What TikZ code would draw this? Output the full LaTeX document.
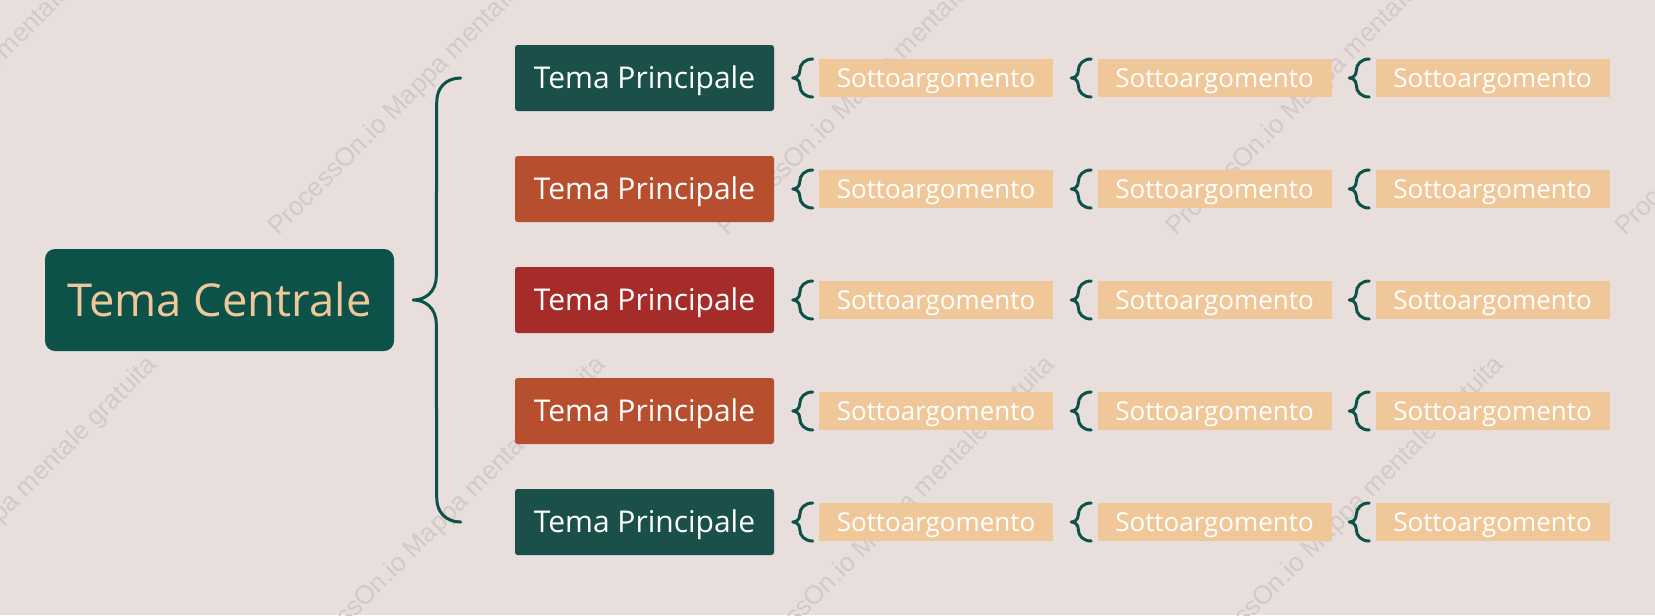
\documentclass[tikz,border=0pt]{standalone}
\usepackage{fontspec}
\setmainfont{Open Sans}
\newfontfamily\wmfont{Liberation Sans}
\usetikzlibrary{calc}
\definecolor{bgc}{HTML}{E8DEDC}
\definecolor{cgreen}{HTML}{0D5249}
\definecolor{mgreen}{HTML}{1B504A}
\definecolor{morange}{HTML}{B74E2D}
\definecolor{mred}{HTML}{A62C29}
\definecolor{subc}{HTML}{F0C799}
\definecolor{wmc}{HTML}{D3CAC8}
\newcommand{\smallbrace}[1]{%
  \draw[brc] ($(#1.west)+(-6,-19)$) .. controls ($(#1.west)+(-14,-19)$) and ($(#1.west)+(-19,-14)$) .. ($(#1.west)+(-19,-7)$)
     .. controls ($(#1.west)+(-19,-2)$) and ($(#1.west)+(-23,0)$) .. ($(#1.west)+(-26,0)$)
     .. controls ($(#1.west)+(-23,0)$) and ($(#1.west)+(-19,2)$) .. ($(#1.west)+(-19,7)$)
     .. controls ($(#1.west)+(-19,14)$) and ($(#1.west)+(-14,19)$) .. ($(#1.west)+(-6,19)$);}
\begin{document}
\begin{tikzpicture}[x=0.75pt,y=-0.75pt,
  central/.style={fill=cgreen, rounded corners=7.5pt, minimum width=261.75pt, minimum height=76.5pt,
    inner sep=0pt, text=subc, font=\fontsize{34}{40}\selectfont, text height=24.3pt, text depth=0pt},
  mainbox/.style={fill=#1, rounded corners=2pt, minimum width=194.25pt, minimum height=49.5pt,
    inner sep=0pt, text=white, font=\fontsize{22.5}{27}\selectfont, text height=16.1pt, text depth=0pt},
  subbox/.style={fill=subc, minimum width=175.5pt, minimum height=28.5pt,
    inner sep=0pt, text=white, font=\fontsize{19.5}{23}\selectfont, text height=13.9pt, text depth=0pt},
  brc/.style={draw=cgreen, line width=2.25pt, line cap=round, line join=round},
  wm/.style={font=\wmfont\fontsize{19.5}{20}\selectfont, text=wmc, rotate=45, anchor=base west, inner sep=0pt}]
\useasboundingbox (0,0) rectangle (1655,615);
\clip (0,0) rectangle (1655,615);
\fill[bgc] (0,0) rectangle (1655,615);
% watermarks
\node[wm] (w1) at (-171,237) {ProcessOn.io Mappa mentale gratuita};
\node[wm] (w2) at (278,237) {ProcessOn.io Mappa mentale gratuita};
\node[wm] (w3) at (727,237) {ProcessOn.io Mappa mentale gratuita};
\node[wm] (w4) at (1176,237) {ProcessOn.io Mappa mentale gratuita};
\node[wm] (w5) at (1625,237) {ProcessOn.io Mappa mentale gratuita};
\node[wm] (w6) at (-151,675) {ProcessOn.io Mappa mentale gratuita};
\node[wm] (w7) at (298,675) {ProcessOn.io Mappa mentale gratuita};
\node[wm] (w8) at (747,675) {ProcessOn.io Mappa mentale gratuita};
\node[wm] (w9) at (1196,675) {ProcessOn.io Mappa mentale gratuita};
% central
\node[central] (c) at (219.5,300) {Tema Centrale};
% main topics
\node[mainbox=mgreen] (m1) at (644.5,78) {Tema Principale};
\node[mainbox=morange] (m2) at (644.5,189) {Tema Principale};
\node[mainbox=mred] (m3) at (644.5,300) {Tema Principale};
\node[mainbox=morange] (m4) at (644.5,411) {Tema Principale};
\node[mainbox=mgreen] (m5) at (644.5,522) {Tema Principale};
% subtopics
\foreach \r/\y in {1/78,2/189,3/300,4/411,5/522}{
  \node[subbox] (s\r a) at (936,\y) {Sottoargomento};
  \node[subbox] (s\r b) at (1214.5,\y) {Sottoargomento};
  \node[subbox] (s\r c) at (1492.5,\y) {Sottoargomento};
}
% big brace
\coordinate (bt) at ($(m1.west)+(-54,0)$);
\coordinate (bb) at ($(m5.west)+(-54,0)$);
\coordinate (tip) at ($(c.east)+(19,0)$);
\draw[brc] (bt) .. controls ($(bt)+(-15,0)$) and ($(bt)+(-24,10)$) .. ($(bt)+(-24,24)$)
  -- ($(tip)+(23,-24)$) .. controls ($(tip)+(23,-8)$) and ($(tip)+(12,0)$) .. (tip)
  .. controls ($(tip)+(12,0)$) and ($(tip)+(23,8)$) .. ($(tip)+(23,24)$)
  -- ($(bb)+(-24,-24)$) .. controls ($(bb)+(-24,-10)$) and ($(bb)+(-15,0)$) .. (bb);
% small braces
\foreach \r in {1,2,3,4,5}{
  \smallbrace{s\r a}
  \smallbrace{s\r b}
  \smallbrace{s\r c}
}
\end{tikzpicture}
\end{document}
